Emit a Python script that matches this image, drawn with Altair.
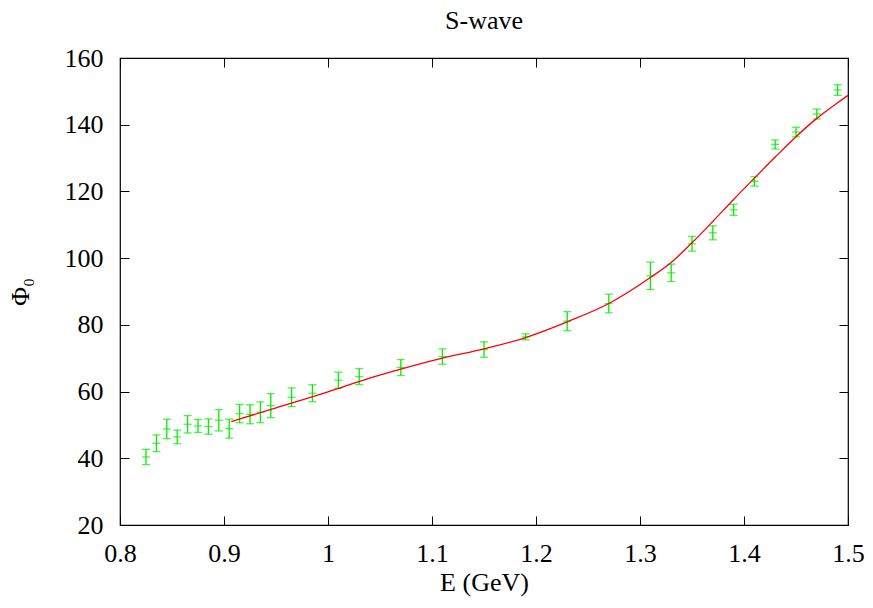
import altair as alt
import pandas as pd

# Data points (E in GeV, phase in degrees, symmetric error)
energy = [0.825, 0.835, 0.845, 0.855, 0.865, 0.875, 0.885, 0.895, 0.905, 0.915,
          0.925, 0.935, 0.945, 0.965, 0.985, 1.01, 1.03, 1.07, 1.11, 1.15,
          1.19, 1.23, 1.27, 1.31, 1.33, 1.35, 1.37, 1.39, 1.41, 1.43,
          1.45, 1.47, 1.49]
phase = [40.4, 44.5, 48.8, 46.4, 50.2, 49.7, 49.5, 51.4, 48.9, 53.4,
         53.2, 53.8, 55.8, 58.3, 59.5, 63.4, 64.5, 67.2, 70.5, 72.6,
         76.4, 81.1, 86.4, 94.7, 95.6, 104.3, 107.6, 114.5, 123.0, 134.1,
         137.8, 143.2, 150.4]
error = [2.3, 2.5, 2.9, 2.05, 2.6, 1.95, 2.3, 3.2, 2.85, 2.75,
         2.85, 3.1, 3.6, 2.8, 2.55, 2.4, 2.4, 2.4, 2.3, 2.3,
         0.9, 2.85, 2.8, 4.1, 2.6, 2.2, 2.1, 1.65, 1.4, 1.35,
         1.45, 1.5, 1.6]

# Fitted curve
fit_e = [0.907, 0.95, 1.0, 1.04, 1.07, 1.11, 1.15, 1.19, 1.23, 1.27,
         1.31, 1.33, 1.35, 1.37, 1.39, 1.41, 1.43, 1.45, 1.47, 1.49, 1.5]
fit_phi = [51.0, 55.1, 59.9, 64.0, 66.7, 70.0, 72.8, 76.2, 80.9, 86.4,
           94.2, 98.7, 104.6, 111.0, 117.6, 124.0, 130.3, 136.4, 141.9, 146.6, 148.8]

x_ticks = [0.8, 0.9, 1.0, 1.1, 1.2, 1.3, 1.4, 1.5]
y_ticks = [20, 40, 60, 80, 100, 120, 140, 160]

pts = pd.DataFrame({"E": energy, "phi": phase, "err": error})
pts["lo"] = pts["phi"] - pts["err"]
pts["hi"] = pts["phi"] + pts["err"]
fit = pd.DataFrame({"E": fit_e, "phi": fit_phi})

FONT = "Times New Roman"
GREEN = "#00ee00"
TICK = 9

xscale = alt.Scale(domain=[0.8, 1.5], nice=False, zero=False)
yscale = alt.Scale(domain=[20, 160], nice=False, zero=False)

x_bottom = alt.Axis(orient="bottom", values=x_ticks, format="~g", offset=-TICK,
                    tickSize=TICK, domain=False, grid=False, labelFlush=False,
                    labelOverlap=False, labelPadding=15, title="E (GeV)",
                    titlePadding=3)
y_left = alt.Axis(orient="left", values=y_ticks, offset=-TICK, tickSize=TICK,
                  domain=False, grid=False, labelOverlap=False, labelPadding=17,
                  title="Φ₀", titlePadding=31)
x_top = alt.Axis(orient="top", values=x_ticks, offset=-TICK, tickSize=TICK,
                 domain=False, grid=False, labels=False, title=None)
y_right = alt.Axis(orient="right", values=y_ticks, offset=-TICK, tickSize=TICK,
                   domain=False, grid=False, labels=False, title=None)

base = alt.Chart(pts)

bars = base.mark_rule(color=GREEN, strokeWidth=1.3).encode(
    x=alt.X("E:Q", scale=xscale, axis=x_bottom),
    y=alt.Y("lo:Q", scale=yscale, axis=y_left),
    y2="hi:Q",
)
cap_lo = base.mark_tick(color=GREEN, orient="horizontal", size=8, thickness=1.3).encode(
    x=alt.X("E:Q", scale=xscale, axis=None),
    y=alt.Y("lo:Q", scale=yscale, axis=None),
)
cap_hi = base.mark_tick(color=GREEN, orient="horizontal", size=8, thickness=1.3).encode(
    x=alt.X("E:Q", scale=xscale, axis=None),
    y=alt.Y("hi:Q", scale=yscale, axis=None),
)
center = base.mark_tick(color=GREEN, orient="horizontal", size=8, thickness=1.3).encode(
    x=alt.X("E:Q", scale=xscale, axis=None),
    y=alt.Y("phi:Q", scale=yscale, axis=None),
)
curve = alt.Chart(fit).mark_line(color="#ff0000", strokeWidth=1.3,
                                 interpolate="monotone").encode(
    x=alt.X("E:Q", scale=xscale, axis=x_top),
    y=alt.Y("phi:Q", scale=yscale, axis=y_right),
)

chart = alt.layer(bars, cap_lo, cap_hi, center, curve).resolve_axis(
    x="independent", y="independent"
).properties(
    width=728,
    height=467,
    title=alt.TitleParams("S-wave", font=FONT, fontSize=26,
                          fontWeight="normal", color="black", anchor="middle",
                          offset=11),
    autosize=alt.AutoSizeParams(type="none"),
    padding={"left": 112, "top": 50, "right": 17, "bottom": 72},
).configure_view(
    stroke="black", strokeWidth=1.2
).configure_axis(
    labelFont=FONT, labelFontSize=26, labelColor="black",
    titleFont=FONT, titleFontSize=26, titleFontWeight="normal", titleColor="black",
    tickColor="black", tickWidth=1,
)

chart.save("out.html", embed_options={"renderer": "svg", "actions": False})
